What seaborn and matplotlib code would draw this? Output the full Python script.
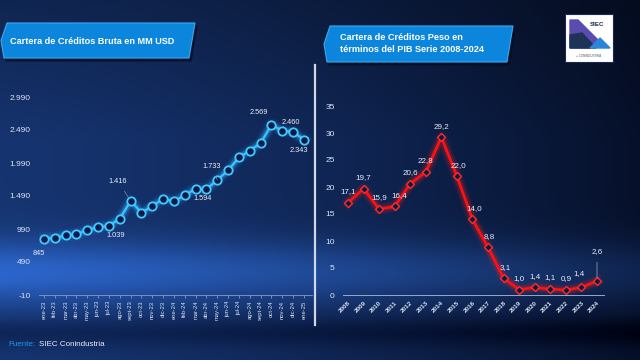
import numpy as np
import pandas as pd
import matplotlib
matplotlib.use("Agg")
import matplotlib.pyplot as plt
import seaborn as sns
from matplotlib.patches import Polygon, Rectangle
from matplotlib.lines import Line2D

# ---------------- data ----------------
months = ["ene-23", "feb-23", "mar-23", "abr-23", "may-23", "jun-23", "jul-23", "ago-23",
          "sept-23", "oct-23", "nov-23", "dic-23", "ene-24", "feb-24", "mar-24", "abr-24",
          "may-24", "jun-24", "jul-24", "ago-24", "sept-24", "oct-24", "nov-24", "dic-24", "ene-25"]
cartera_usd = [845, 850, 895, 910, 975, 1015, 1039, 1146, 1416, 1237, 1337, 1448, 1408,
               1503, 1599, 1594, 1733, 1880, 2075, 2176, 2293, 2569, 2478, 2460, 2343]
usd_labels = {0: "845", 6: "1.039", 8: "1.416", 15: "1.594", 16: "1.733",
              21: "2.569", 23: "2.460", 24: "2.343"}
left_yticks = [-10, 490, 990, 1490, 1990, 2490, 2990]
left_yticklabels = ["-10", "490", "990", "1.490", "1.990", "2.490", "2.990"]

years = list(range(2008, 2025))
peso_pib = [17.1, 19.7, 15.9, 16.4, 20.6, 22.8, 29.2, 22.0, 14.0, 8.8, 3.1, 1.0, 1.4, 1.1, 0.9, 1.4, 2.6]
right_yticks = [0, 5, 10, 15, 20, 25, 30, 35]

title_left = "Cartera de Créditos Bruta en MM USD"
title_right = ["Cartera de Créditos Peso en", "términos del PIB Serie 2008-2024"]

W, H = 640, 360
plt.rcParams['font.family'] = ['Liberation Sans', 'DejaVu Sans']

fig = plt.figure(figsize=(6.4, 3.6), dpi=100)

def fx(x): return x / W
def fy(y): return 1 - y / H

# ---------------- background ----------------
bg = fig.add_axes([0, 0, 1, 1], zorder=0)
yy, xx = np.mgrid[0:H, 0:W].astype(float)
tx = xx / W
left_c = np.array([22, 52, 112]) / 255
right_c = np.array([6, 16, 42]) / 255
t = np.clip(tx ** 1.4, 0, 1)[..., None]
img = left_c * (1 - t) + right_c * t
vert = 0.72 + 0.28 * np.clip(yy / 140, 0, 1)
img = img * vert[..., None]
band = np.exp(-((yy - 272) / 32) ** 2) * (1 - 0.6 * tx)
img = img + band[..., None] * np.array([22, 50, 92]) / 255
dark = np.exp(-((yy - 332) / 14) ** 2)
img = img - dark[..., None] * np.array([8, 15, 25]) / 255
img = np.clip(img, 0, 1)
bg.imshow(img, extent=[0, W, H, 0], aspect='auto')
bg.set_xlim(0, W); bg.set_ylim(H, 0); bg.axis('off')

# divider
bg.add_line(Line2D([315, 315], [65, 325], color='#d0d8e8', lw=1.6))

# title boxes
def title_box(x0, y0, x1, y1):
    pts = [(x0 + 6, y0), (x1, y0), (x1 - 6, y1), (x0 + 3, y1), (x0, (y0 + y1) / 2)]
    bg.add_patch(Polygon([(p[0] + 2, p[1] + 3) for p in pts], closed=True, color='#050c20', alpha=0.6))
    bg.add_patch(Polygon(pts, closed=True, facecolor='#0b86dc', edgecolor='#38aaf0', lw=0.8))
title_box(1, 23, 195, 58)
title_box(324, 26, 513, 62)
bg.text(10, 41, title_left, color='white', fontsize=6.6, fontweight='bold', va='center', ha='left')
bg.text(340, 38, title_right[0], color='white', fontsize=6.6, fontweight='bold', va='center', ha='left')
bg.text(340, 50, title_right[1], color='white', fontsize=6.6, fontweight='bold', va='center', ha='left')

# logo
bg.add_patch(Rectangle((565, 14), 48, 48, facecolor='white', edgecolor='#1a2a50', lw=0.8))
bg.add_patch(Polygon([(570, 20), (578, 20), (598, 40), (590, 48), (570, 48)], closed=True, color='#5a4bb0'))
bg.add_patch(Polygon([(570, 35), (582, 33), (596, 48), (570, 48)], closed=True, color='#1f3258'))
bg.add_patch(Polygon([(590, 48), (600, 38), (610, 48)], closed=True, color='#2a86d8'))
bg.text(597, 24, "SIEC", fontsize=4.5, fontweight='bold', color='#1a2a50', ha='center', va='center')
bg.text(589, 56, "○ CONINDUSTRIA", fontsize=2.2, color='#555', ha='center', va='center')

# footer
bg.text(8, 344, "Fuente:", color='#1e9ae8', fontsize=5.8, va='center', ha='left')
bg.text(39, 344, "SIEC Conindustria", color='#e8eef8', fontsize=5.8, va='center', ha='left')

tick_col = '#dbe3f2'

# ---------------- left chart ----------------
axL = fig.add_axes([fx(39), fy(295), fx(312) - fx(39), fy(97) - fy(295)], zorder=2)
axL.patch.set_alpha(0)
dfL = pd.DataFrame({"mes": np.arange(len(months)), "valor": cartera_usd})
for lw, a in [(9, 0.08), (6, 0.15), (4, 0.3)]:
    sns.lineplot(data=dfL, x="mes", y="valor", ax=axL, color='#2ab4ff', lw=lw, alpha=a)
sns.lineplot(data=dfL, x="mes", y="valor", ax=axL, color='#3cc4ff', lw=1.6,
             marker='o', markersize=6.0, markerfacecolor='#0a1c48',
             markeredgecolor='#45c8ff', markeredgewidth=1.3)
axL.set_xlim(-0.46, 24.74)
axL.set_ylim(-10, 2990)
axL.set_yticks(left_yticks)
axL.set_yticklabels(left_yticklabels)
axL.set_xticks(np.arange(len(months)))
axL.set_xticklabels(months, rotation=90)
axL.tick_params(axis='y', length=0, labelsize=6.0, colors=tick_col, pad=6)
axL.tick_params(axis='x', length=2.5, width=0.6, color='#8a9ac0', labelsize=4.2,
                labelcolor=tick_col, pad=1.5)
for s in ['top', 'right', 'left']:
    axL.spines[s].set_visible(False)
axL.spines['bottom'].set_color('#8a9ac0')
axL.spines['bottom'].set_linewidth(0.6)
axL.set_xlabel(""); axL.set_ylabel("")
axL.grid(False)
offsL = {0: (-4, -11), 6: (5, -7), 8: (-9, 14), 15: (-3, -7), 16: (-4, 10),
         21: (-9, 9), 23: (-2, 7), 24: (-4, -8)}
for i, txt in usd_labels.items():
    dx, dy = offsL[i]
    lead = abs(dy) > 8
    axL.annotate(txt, (i, cartera_usd[i]), xytext=(dx, dy), textcoords='offset points',
                 ha='center', va='center', fontsize=5.3, color='#e8eef8',
                 arrowprops=dict(arrowstyle='-', color='#8090a8', lw=0.5, shrinkA=3, shrinkB=3) if lead else None)

# ---------------- right chart ----------------
axR = fig.add_axes([fx(343), fy(295), fx(604) - fx(343), fy(106) - fy(295)], zorder=2)
axR.patch.set_alpha(0)
dfR = pd.DataFrame({"anio": years, "valor": peso_pib})
for lw, a in [(8, 0.1), (5, 0.2)]:
    sns.lineplot(data=dfR, x="anio", y="valor", ax=axR, color='#ff2020', lw=lw, alpha=a)
sns.lineplot(data=dfR, x="anio", y="valor", ax=axR, color='#ff1010', lw=2.0,
             marker='D', markersize=4.5, markerfacecolor='#0c1a40',
             markeredgecolor='#ff2a2a', markeredgewidth=1.0)
axR.set_xlim(2007.68, 2024.45)
axR.set_ylim(0, 35)
axR.set_yticks(right_yticks)
axR.set_xticks(years)
axR.set_xticklabels([str(y) for y in years], rotation=45, ha='right', rotation_mode='anchor')
axR.tick_params(axis='y', length=0, labelsize=6.0, colors=tick_col, pad=6)
axR.tick_params(axis='x', length=0, labelsize=4.6, labelcolor=tick_col, pad=4)
for lab in axR.get_xticklabels():
    lab.set_fontweight('bold')
for s in ['top', 'right', 'left']:
    axR.spines[s].set_visible(False)
axR.spines['bottom'].set_color('#9aa8c8')
axR.spines['bottom'].set_linewidth(0.7)
axR.set_xlabel(""); axR.set_ylabel("")
axR.grid(False)
for yr, v in zip(years, peso_pib):
    dx, dy = 0, 8
    if yr == 2011: dx = 3
    if yr in (2015, 2016, 2017, 2018): dx = 1
    if yr == 2023: dx, dy = -2, 10
    lead = None
    if yr == 2024:
        dy = 21
        lead = dict(arrowstyle='-', color='#a0aabb', lw=0.5, shrinkA=3, shrinkB=2)
    axR.annotate(f"{v:.1f}".replace('.', ','), (yr, v), xytext=(dx, dy), textcoords='offset points',
                 ha='center', va='center', fontsize=5.8, color='#e8eef8', arrowprops=lead)

fig.savefig("out.png", dpi=100)
